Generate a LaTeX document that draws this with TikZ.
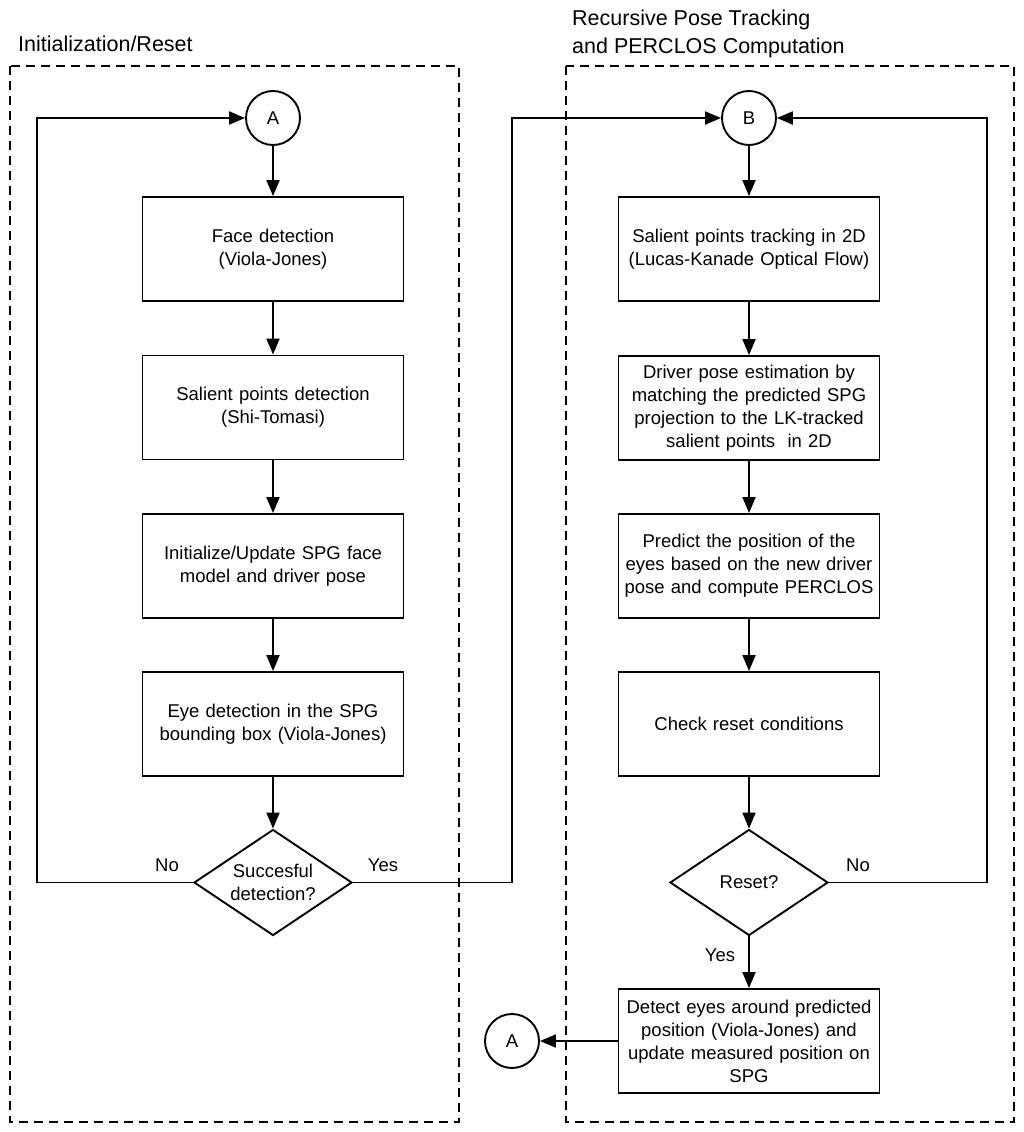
\documentclass[tikz,border=0pt]{standalone}
\usepackage{fontspec}
\setmainfont{Liberation Sans}
\usetikzlibrary{shapes.geometric,arrows.meta}
\begin{document}
\begin{tikzpicture}[x=1pt,y=-1pt,
  font=\fontsize{18.5}{23}\selectfont,
  proc/.style={draw,line width=1.9pt,minimum width=261pt,minimum height=104pt,align=center,text width=255pt,inner sep=0pt},
  conn/.style={draw,circle,line width=1.9pt,minimum size=54pt,inner sep=0pt},
  dec/.style={draw,diamond,line width=1.9pt,minimum width=158pt,minimum height=106pt,aspect=1.5,inner sep=0pt,align=center},
  arr/.style={line width=1.9pt,-{Triangle[length=16pt,width=13pt]}},
  region/.style={draw,dash pattern=on 9pt off 6pt,line width=1.2pt},
  lbl/.style={inner sep=0pt,anchor=base}]
\useasboundingbox (0,0) rectangle (1024,1132);
% regions
\draw[region] (10,66) rectangle (459,1122);
\draw[region] (566,66) rectangle (1014,1122);
\node[anchor=base west,inner sep=0pt,font=\fontsize{21.5}{28}\selectfont] (t1) at (18,52) {Initialization/Reset};
\node[anchor=base west,inner sep=0pt,align=left,font=\fontsize{21.5}{28}\selectfont] (t2) at (572,53) {Recursive Pose Tracking\\and PERCLOS Computation};
% left column
\node[conn] (A) at (273,118) {A};
\node[proc] (f1) at (273,249) {Face detection\\(Viola-Jones)};
\node[proc] (f2) at (273,407.5) {Salient points detection\\(Shi-Tomasi)};
\node[proc] (f3) at (273,566) {Initialize/Update SPG face\\model and driver pose};
\node[proc] (f4) at (273,724) {Eye detection in the SPG\\bounding box (Viola-Jones)};
\node[dec] (d1) at (273,882.5) {Succesful\\detection?};
% right column
\node[conn] (B) at (749,118) {B};
\node[proc] (g1) at (749,249) {Salient points tracking in 2D\\(Lucas-Kanade Optical Flow)};
\node[proc] (g2) at (749,408) {Driver pose estimation by\\matching the predicted SPG\\projection to the LK-tracked\\salient points\ \ in 2D};
\node[proc] (g3) at (749,566) {Predict the position of the\\eyes based on the new driver\\pose and compute PERCLOS};
\node[proc] (g4) at (749,724) {Check reset conditions};
\node[dec] (d2) at (749,882.5) {Reset?};
\node[proc] (g5) at (749,1041) {Detect eyes around predicted\\position (Viola-Jones) and\\update measured position on\\SPG};
\node[conn] (A2) at (512,1041) {A};
% coordinates
\coordinate (nl) at (37,882.5);
\coordinate (nlt) at (37,118);
\coordinate (yr) at (512,882.5);
\coordinate (yrt) at (512,118);
\coordinate (nr) at (987,882.5);
\coordinate (nrt) at (987,118);
% arrows left
\draw[arr] (A) -- (f1);
\draw[arr] (f1) -- (f2);
\draw[arr] (f2) -- (f3);
\draw[arr] (f3) -- (f4);
\draw[arr] (f4) -- (d1);
\draw[arr] (d1.west) -- (nl) -- (nlt) -- (A);
\draw[arr] (d1.east) -- (yr) -- (yrt) -- (B);
% arrows right
\draw[arr] (B) -- (g1);
\draw[arr] (g1) -- (g2);
\draw[arr] (g2) -- (g3);
\draw[arr] (g3) -- (g4);
\draw[arr] (g4) -- (d2);
\draw[arr] (d2.east) -- (nr) -- (nrt) -- (B);
\draw[arr] (d2) -- (g5);
\draw[arr] (g5) -- (A2);
% labels
\node[lbl] (l1) at (167,871) {No};
\node[lbl] (l2) at (383,871) {Yes};
\node[lbl] (l3) at (858,871) {No};
\node[lbl] (l4) at (720,961) {Yes};
\end{tikzpicture}
\end{document}
